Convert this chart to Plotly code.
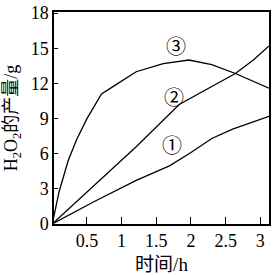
import plotly.graph_objects as go

# data
x1 = [0.0, 0.6, 1.21, 1.69, 2.0, 2.3, 2.6, 3.125]
y1 = [0.0, 1.9, 3.72, 4.96, 6.1, 7.3, 8.1, 9.2]

x2 = [0.0, 0.6, 1.21, 1.83, 2.2, 2.64, 2.9, 3.125]
y2 = [0.0, 3.3, 6.6, 10.2, 11.4, 12.85, 14.0, 15.2]

x3 = [0.0, 0.1, 0.229, 0.35, 0.5, 0.71, 0.92, 1.21, 1.6, 1.97, 2.3, 2.64, 3.125]
y3 = [0.0, 2.8, 5.4, 7.2, 9.0, 11.1, 11.9, 13.0, 13.7, 14.0, 13.6, 12.85, 11.6]

labels = ["①", "②", "③"]
label_x = [1.73, 1.75, 1.78]
label_y = [6.8, 10.85, 15.2]

xticks = [0.5, 1, 1.5, 2, 2.5, 3]
yticks = [0, 3, 6, 9, 12, 15, 18]

fig = go.Figure()
line = dict(color="black", width=1.3)
for xs, ys in [(x1, y1), (x2, y2), (x3, y3)]:
    fig.add_trace(go.Scatter(x=xs, y=ys, mode="lines", line=line, showlegend=False))

for t, lx, ly in zip(labels, label_x, label_y):
    fig.add_annotation(x=lx, y=ly, text=t, showarrow=False,
                       font=dict(size=20, family="Noto Sans CJK SC", color="black"))

font = dict(family="Liberation Serif, Noto Sans CJK SC", size=18, color="black")
tfont = dict(family="Liberation Serif, Noto Sans CJK SC", size=19, color="black")
fig.update_layout(
    width=274, height=275,
    margin=dict(l=54, r=3, t=6, b=51),
    paper_bgcolor="white", plot_bgcolor="white",
    font=font,
    xaxis=dict(range=[0.025, 3.125], tickvals=xticks, ticktext=[str(v) for v in xticks],
               ticks="inside", ticklen=7, tickwidth=1.2, tickcolor="black",
               showline=True, linecolor="black", linewidth=1.5, mirror=True,
               showgrid=False, zeroline=False, ticklabeloverflow="allow",
               title=dict(text="时间/h", standoff=7, font=tfont)),
    yaxis=dict(range=[0, 18.1], tickvals=yticks,
               ticks="inside", ticklen=4, tickwidth=1.2, tickcolor="black",
               showline=True, linecolor="black", linewidth=1.5, mirror=True,
               showgrid=False, zeroline=False, ticklabeloverflow="allow",
               title=dict(text="H<sub>2</sub>O<sub>2</sub>的产量/g", standoff=8, font=font)),
)
fig.write_html("out.html")
